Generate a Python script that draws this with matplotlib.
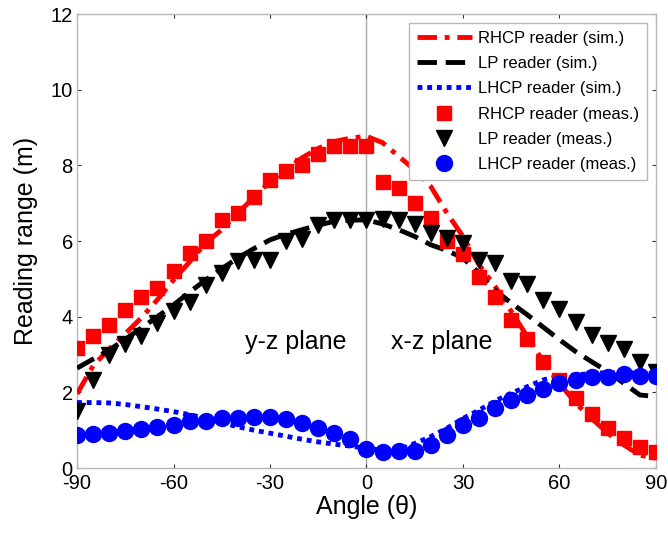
import matplotlib.pyplot as plt
import numpy as np

plt.rcParams['font.family'] = ['Liberation Sans', 'DejaVu Sans']
plt.rcParams['axes.unicode_minus'] = False

# angles (deg), every 5 degrees
angles = np.arange(-90, 95, 5)

# simulated curves
rhcp_sim = [1.96, 2.7, 3.15, 3.55, 3.97, 4.45, 4.97, 5.45, 5.95, 6.3, 6.74, 7.15,
            7.57, 7.9, 8.2, 8.45, 8.63, 8.72, 8.77, 8.6, 8.24, 7.88, 7.44, 6.74,
            6.12, 5.37, 4.8, 4.14, 3.47, 2.81, 2.24, 1.72, 1.31, 0.92, 0.61, 0.34, 0.26]
lp_sim = [2.64, 2.88, 3.12, 3.4, 3.7, 4.0, 4.31, 4.65, 4.97, 5.27, 5.55, 5.8,
          6.03, 6.18, 6.3, 6.42, 6.52, 6.55, 6.56, 6.45, 6.3, 6.12, 5.9, 5.75,
          5.55, 5.15, 4.7, 4.36, 4.05, 3.72, 3.39, 3.08, 2.81, 2.55, 2.24, 1.93, 1.89]
lhcp_sim = [1.73, 1.73, 1.72, 1.68, 1.62, 1.56, 1.49, 1.41, 1.31, 1.2, 1.09, 1.0,
            0.92, 0.84, 0.76, 0.69, 0.63, 0.58, 0.52, 0.47, 0.47, 0.65, 0.83, 1.05,
            1.31, 1.53, 1.77, 1.98, 2.15, 2.33, 2.43, 2.46, 2.5, 2.52, 2.52, 2.51, 2.5]

# measured values
rhcp_meas = [3.17, 3.49, 3.78, 4.18, 4.52, 4.75, 5.21, 5.68, 5.99, 6.56, 6.74, 7.17,
             7.6, 7.85, 8.02, 8.31, 8.5, 8.5, 8.5, 7.57, 7.4, 7.0, 6.6, 6.0,
             5.65, 5.05, 4.53, 3.9, 3.4, 2.8, 2.33, 1.85, 1.43, 1.05, 0.8, 0.55, 0.43]
lp_meas = [1.52, 2.33, 3.0, 3.28, 3.49, 3.83, 4.14, 4.4, 4.84, 5.15, 5.46, 5.5,
           5.5, 6.0, 6.05, 6.43, 6.56, 6.56, 6.56, 6.58, 6.56, 6.45, 6.2, 6.08,
           5.95, 5.49, 5.41, 4.93, 4.87, 4.44, 4.2, 3.87, 3.52, 3.3, 3.14, 2.81, 2.55]
lhcp_meas = [0.87, 0.89, 0.93, 0.99, 1.02, 1.08, 1.14, 1.23, 1.25, 1.31, 1.31, 1.36,
             1.34, 1.29, 1.2, 1.05, 0.93, 0.76, 0.49, 0.43, 0.44, 0.45, 0.61, 0.87,
             1.14, 1.31, 1.58, 1.8, 1.93, 2.08, 2.26, 2.33, 2.4, 2.4, 2.49, 2.42, 2.42]

fig = plt.figure(figsize=(6.68, 5.35), dpi=100)
ax = fig.add_axes([0.1153, 0.1252, 0.8667, 0.8486])

ax.axvline(0, color='#a8a8a8', lw=1.0, zorder=1)

ax.plot(angles, rhcp_sim, color='#ff0000', lw=3.5, ls=(0, (4, 1.6, 1, 1.6)),
        label='RHCP reader (sim.)', zorder=3)
ax.plot(angles, lp_sim, color='black', lw=3.5, ls=(0, (4, 1.8)),
        label='LP reader (sim.)', zorder=3)
ax.plot(angles, lhcp_sim, color='#0000ff', lw=3.5, ls=(0, (1, 1)),
        label='LHCP reader (sim.)', zorder=3)

ax.plot(angles, rhcp_meas, 's', color='#ff0000', ms=10.5, mec='#ff0000',
        label='RHCP reader (meas.)', zorder=4)
ax.plot(angles, lp_meas, 'v', color='black', ms=11.5,
        label='LP reader (meas.)', zorder=4)
ax.plot(angles, lhcp_meas, 'o', color='#0000ff', ms=11.5,
        label='LHCP reader (meas.)', zorder=4)

ax.text(-22, 3.33, 'y-z plane', fontsize=18, ha='center', va='center')
ax.text(23.5, 3.33, 'x-z plane', fontsize=18, ha='center', va='center')

ax.set_xlim(-90, 90)
ax.set_ylim(0, 12)
ax.set_xticks(np.arange(-90, 91, 30))
ax.set_yticks(np.arange(0, 13, 2))
ax.tick_params(direction='in', length=3, width=0.8, labelsize=14.5, color='#333333',
               top=True, right=True)
ax.tick_params(axis='x', pad=4)
ax.tick_params(axis='y', pad=3)
for s in ax.spines.values():
    s.set_color('#b8b8b8')
    s.set_linewidth(1.0)

ax.set_xlabel('Angle (θ)', fontsize=18, labelpad=2)
ax.set_ylabel('Reading range (m)', fontsize=18, labelpad=9)

leg = ax.legend(loc='upper right', bbox_to_anchor=(647 / 668, 1 - 23 / 535),
                bbox_transform=fig.transFigure, fontsize=12, handlelength=3.3,
                labelspacing=0.62, borderpad=0.45, handletextpad=0.4,
                fancybox=False, framealpha=1, edgecolor='#b8b8b8', borderaxespad=0)
leg.get_frame().set_linewidth(1.0)

fig.savefig('out.png', dpi=100)
